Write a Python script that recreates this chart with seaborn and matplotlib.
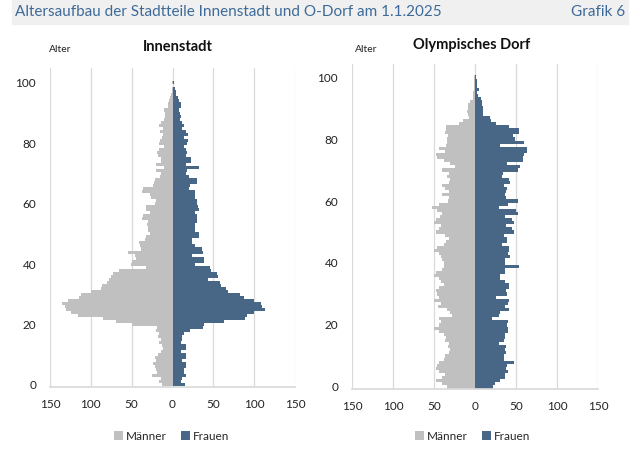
import matplotlib
matplotlib.use("Agg")
import matplotlib.pyplot as plt
import seaborn as sns
import pandas as pd
from matplotlib.patches import Rectangle

# Alter 0 bis 100
ages = list(range(101))

# Innenstadt
inn_maenner = [13, 16, 14, 25, 19, 20, 22, 24, 20, 22,
               18, 14, 12, 13, 16, 14, 18, 17, 20, 19,
               49, 69, 85, 116, 124, 130, 132, 135, 128, 114,
               112, 100, 88, 86, 80, 78, 75, 73, 65, 33,
               51, 50, 45, 46, 54, 38, 40, 41, 34, 32,
               28, 30, 30, 31, 30, 37, 36, 28, 33, 32,
               21, 20, 26, 27, 37, 36, 24, 23, 22, 15,
               14, 20, 11, 20, 14, 14, 18, 19, 16, 11,
               17, 15, 13, 12, 15, 12, 17, 14, 11, 9,
               9, 10, 6, 5, 4, 3, 2, 1, 1, 0, 1]
inn_frauen = [15, 11, 12, 16, 14, 14, 16, 16, 12, 16,
              16, 11, 16, 16, 10, 12, 12, 14, 22, 37,
              39, 63, 89, 91, 100, 113, 110, 108, 100, 88,
              83, 68, 66, 59, 58, 43, 56, 55, 47, 46,
              28, 39, 38, 24, 37, 36, 28, 24, 24, 32,
              33, 28, 28, 27, 30, 30, 30, 28, 32, 31,
              30, 30, 28, 28, 27, 20, 22, 30, 30, 20,
              16, 18, 32, 16, 23, 23, 16, 18, 17, 14,
              18, 19, 14, 19, 17, 12, 14, 12, 9, 11,
              9, 8, 11, 10, 8, 7, 4, 4, 3, 1, 2]

# Olympisches Dorf
od_maenner = [34, 40, 47, 40, 36, 44, 48, 46, 44, 38,
              36, 32, 31, 33, 32, 36, 35, 38, 44, 50,
              44, 42, 44, 28, 30, 34, 45, 42, 50, 44,
              46, 48, 44, 38, 42, 44, 50, 48, 40, 38,
              38, 40, 42, 44, 50, 46, 38, 35, 32, 36,
              48, 44, 42, 50, 47, 43, 40, 46, 52, 44,
              33, 32, 40, 32, 36, 40, 32, 30, 34, 32,
              40, 25, 30, 38, 46, 48, 36, 44, 35, 34,
              34, 33, 36, 35, 35, 19, 15, 7, 8, 10,
              8, 8, 6, 3, 3, 2, 1, 1, 1, 1, 1]
od_frauen = [22, 24, 31, 36, 36, 40, 38, 39, 48, 35,
             35, 38, 37, 38, 29, 35, 36, 37, 40, 40,
             39, 40, 21, 29, 30, 41, 36, 40, 42, 25,
             39, 38, 42, 42, 36, 30, 31, 36, 37, 54,
             36, 36, 43, 40, 41, 41, 33, 39, 39, 35,
             48, 45, 38, 48, 45, 36, 52, 50, 29, 40,
             52, 38, 36, 38, 39, 35, 43, 42, 33, 34,
             52, 55, 39, 58, 58, 60, 63, 63, 30, 60,
             49, 46, 54, 54, 41, 26, 19, 18, 10, 10,
             10, 9, 8, 7, 4, 3, 5, 3, 3, 2, 1]

x_ticks = [-150, -100, -50, 0, 50, 100, 150]
x_ticklabels = ["150", "100", "50", "0", "50", "100", "150"]

GRAU = "#c0c0c0"
BLAU = "#3e668f"
TEXTBLAU = "#3d6a98"
GITTER = "#d9d9d9"

sns.set_theme(style="white")
plt.rcParams["font.family"] = ["Lato", "DejaVu Sans"]

W, H = 640, 457
fig = plt.figure(figsize=(W / 100, H / 100), dpi=100)


def rect(x0, y0, x1, y1):
    # pixel box (origin top left) -> figure fraction
    return [x0 / W, 1 - y1 / H, (x1 - x0) / W, (y1 - y0) / H]


def long_df(m, f):
    return pd.DataFrame({
        "Alter": ages + ages,
        "Anzahl": [-v for v in m] + list(f),
        "Geschlecht": ["Männer"] * len(ages) + ["Frauen"] * len(ages),
    })


def pyramide(ax, m, f, ylim, legend_xy):
    df = long_df(m, f)
    sns.barplot(data=df, x="Anzahl", y="Alter", hue="Geschlecht", orient="h",
                native_scale=True, dodge=False, width=1, errorbar=None,
                palette={"Männer": GRAU, "Frauen": BLAU}, linewidth=0, ax=ax)
    ax.set_xlim(-150, 150)
    ax.set_ylim(*ylim)
    ax.set_xticks(x_ticks)
    ax.set_xticklabels(x_ticklabels)
    ax.set_yticks(range(0, 101, 20))
    ax.grid(axis="x", color=GITTER, lw=0.9)
    ax.grid(axis="y", visible=False)
    ax.set_axisbelow(True)
    for s in ["top", "right", "left"]:
        ax.spines[s].set_visible(False)
    ax.spines["bottom"].set_color(GITTER)
    ax.tick_params(axis="both", length=0, labelsize=8.5, colors="#222222")
    ax.tick_params(axis="x", pad=9)
    ax.tick_params(axis="y", pad=10)
    ax.set_xlabel("")
    ax.set_ylabel("")
    sns.move_legend(ax, "center", bbox_to_anchor=legend_xy, bbox_transform=fig.transFigure,
                    ncol=2, frameon=False, title=None, fontsize=8.5,
                    handlelength=0.7, handleheight=0.7, handletextpad=0.3,
                    columnspacing=1.2)


ax1 = fig.add_axes(rect(50, 68, 295, 387))
pyramide(ax1, inn_maenner, inn_frauen, (-0.67, 104.9), (172 / W, 1 - 436 / H))

ax2 = fig.add_axes(rect(352, 64, 598, 389))
pyramide(ax2, od_maenner, od_frauen, (-0.65, 104.2), (473 / W, 1 - 436 / H))

# Kopfzeile
fig.patches.append(Rectangle((12 / W, 1 - 24 / H), 616 / W, 24 / H,
                             transform=fig.transFigure, color="#f0f0f0", zorder=0))
fig.text(15 / W, 1 - 12 / H, "Altersaufbau der Stadtteile Innenstadt und O-Dorf am 1.1.2025",
         color=TEXTBLAU, fontsize=11, va="center", ha="left")
fig.text(625 / W, 1 - 12 / H, "Grafik 6", color=TEXTBLAU, fontsize=11, va="center", ha="right")

# Titel der Teilgrafiken
fig.text(178 / W, 1 - 47 / H, "Innenstadt", fontsize=10.5, fontweight="bold",
         ha="center", va="center", color="#111111")
fig.text(472 / W, 1 - 45 / H, "Olympisches Dorf", fontsize=10.5, fontweight="bold",
         ha="center", va="center", color="#111111")
fig.text(60 / W, 1 - 50 / H, "Alter", fontsize=7.5, ha="center", va="center", color="#222222")
fig.text(366 / W, 1 - 49 / H, "Alter", fontsize=7.5, ha="center", va="center", color="#222222")

fig.savefig("out.png", dpi=100)
